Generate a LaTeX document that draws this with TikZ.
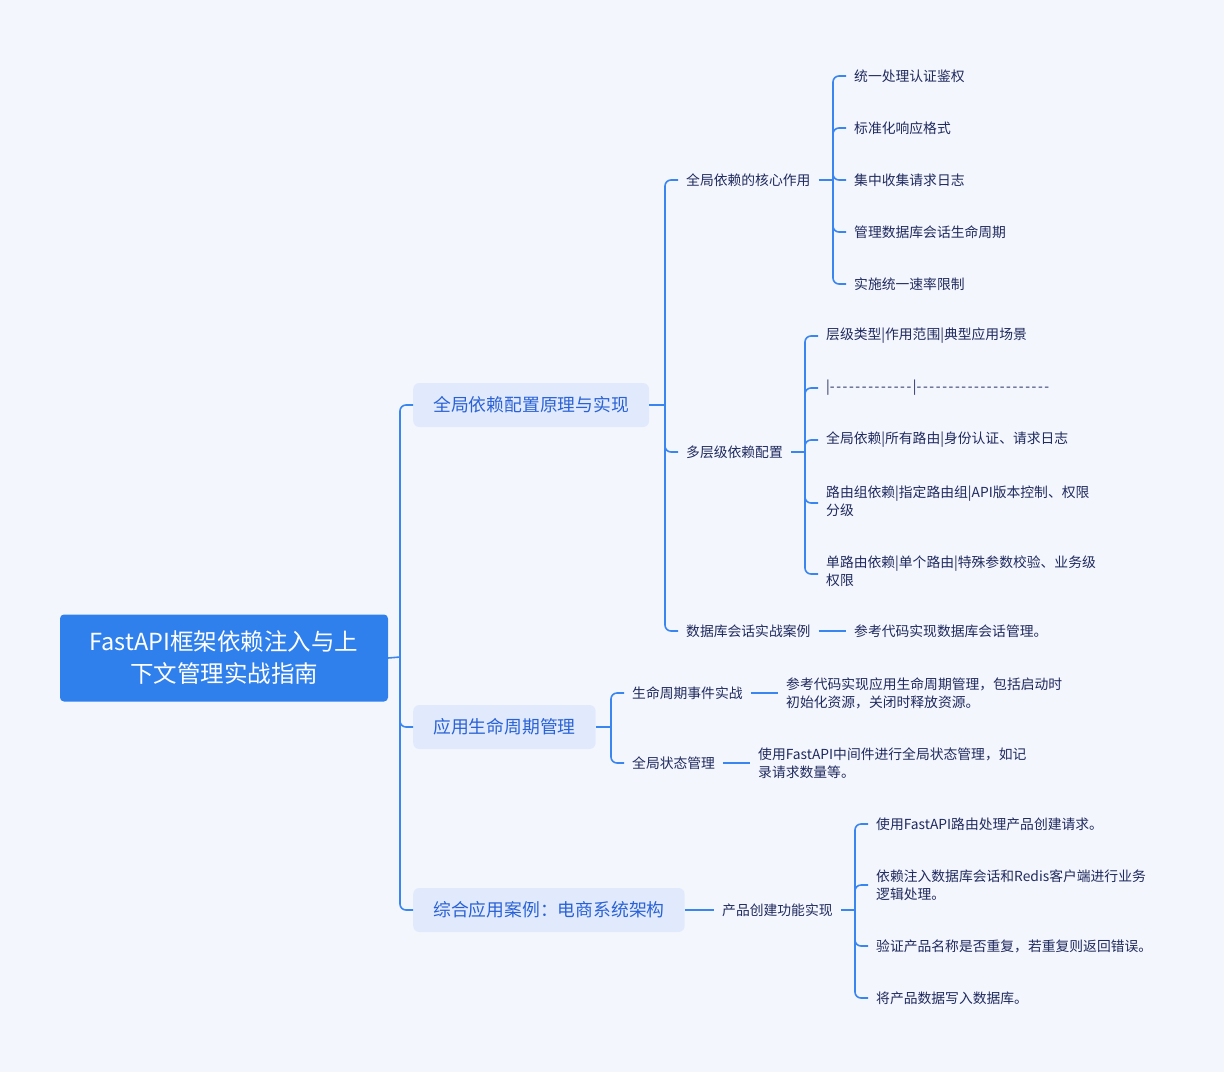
\documentclass[tikz,border=0pt]{standalone}
\usepackage{fontspec}
\setmainfont{Noto Sans CJK SC}
\definecolor{bg}{HTML}{F4F6FD}
\definecolor{ln}{HTML}{3A86F0}
\definecolor{rootc}{HTML}{2F80ED}
\definecolor{lonef}{HTML}{E1EAFC}
\definecolor{lonet}{HTML}{2A62D6}
\definecolor{leaft}{HTML}{1F2A5E}
\newcommand{\hy}[1]{\foreach \i in {1,...,#1}{-\kern1.6pt}}
\begin{document}
\begin{tikzpicture}[x=1pt,y=-1pt,
  conn/.style={draw=ln,line width=1.6pt,rounded corners=6pt},
  rootbox/.style={fill=rootc,rounded corners=4pt,text=white,font=\fontsize{23.5}{32}\selectfont,align=center,minimum width=328pt,minimum height=87pt,inner sep=0pt},
  onebox/.style={fill=lonef,rounded corners=6pt,text=lonet,font=\fontsize{17.8}{22}\selectfont,minimum height=44pt,inner xsep=20pt,anchor=west},
  leaf/.style={text=leaft,font=\fontsize{13.8}{18}\selectfont,align=left,inner sep=0pt,anchor=west}]
\fill[bg] (0,0) rectangle (1224,1072);
\useasboundingbox (0,0) rectangle (1224,1072);
% root
\node[rootbox] (root) at (224,658) {FastAPI框架依赖注入与上\\下文管理实战指南};
% level 1
\node[onebox] (a) at (413,405) {全局依赖配置原理与实现};
\node[onebox] (b) at (413,727) {应用生命周期管理};
\node[onebox] (c) at (413,910) {综合应用案例：电商系统架构};
\coordinate (t0) at (400,657);
\draw[conn] (root.east) -- (t0);
\foreach \n in {a,b,c} \draw[conn] (t0) |- (\n.west);
% level 2 under a
\node[leaf] (a1) at (686,180) {全局依赖的核心作用};
\node[leaf] (a2) at (686,452) {多层级依赖配置};
\node[leaf] (a3) at (686,631) {数据库会话实战案例};
\coordinate (ta) at (665,405);
\draw[conn] (a.east) -- (ta);
\foreach \n in {a1,a2,a3} \draw[conn] (ta) |- ([xshift=-8pt]\n.west);
% a1 leaves
\node[leaf] (a11) at (854,76) {统一处理认证鉴权};
\node[leaf] (a12) at (854,128) {标准化响应格式};
\node[leaf] (a13) at (854,180) {集中收集请求日志};
\node[leaf] (a14) at (854,232) {管理数据库会话生命周期};
\node[leaf] (a15) at (854,284) {实施统一速率限制};
\coordinate (ta1) at (833,180);
\draw[conn] ([xshift=8pt]a1.east) -- (ta1);
\foreach \n in {a11,a12,a13,a14,a15} \draw[conn] (ta1) |- ([xshift=-8pt]\n.west);
% a2 leaves
\node[leaf] (a21) at (826,336) {层级类型|作用范围|典型应用场景};
\node[leaf] (a22) at (826,388) {|\hy{13}|\hy{21}};
\node[leaf] (a23) at (826,440) {全局依赖|所有路由|身份认证、请求日志};
\node[leaf] (a24) at (826,501) {路由组依赖|指定路由组|API版本控制、权限\\分级};
\node[leaf] (a25) at (826,571) {单路由依赖|单个路由|特殊参数校验、业务级\\权限};
\coordinate (ta2) at (805,452);
\draw[conn] ([xshift=8pt]a2.east) -- (ta2);
\foreach \n in {a21,a22,a23} \draw[conn] (ta2) |- ([xshift=-8pt]\n.west);
\draw[conn] (ta2) |- ([xshift=-8pt,yshift=-2pt]a24.west);
\draw[conn] (ta2) |- ([xshift=-8pt,yshift=-3pt]a25.west);
% a3 leaf
\node[leaf] (a31) at (854,631) {参考代码实现数据库会话管理。};
\draw[conn] ([xshift=8pt]a3.east) -- ([xshift=-8pt]a31.west |- a3.east);
% level 2 under b
\node[leaf] (b1) at (632,693) {生命周期事件实战};
\node[leaf] (b2) at (632,763) {全局状态管理};
\coordinate (tb) at (611,727);
\draw[conn] (b.east) -- (tb);
\foreach \n in {b1,b2} \draw[conn] (tb) |- ([xshift=-8pt]\n.west);
\node[leaf] (b11) at (786,693) {参考代码实现应用生命周期管理，包括启动时\\初始化资源，关闭时释放资源。};
\node[leaf] (b21) at (758,763) {使用FastAPI中间件进行全局状态管理，如记\\录请求数量等。};
\draw[conn] ([xshift=8pt]b1.east) -- ([xshift=-8pt]b11.west |- b1.east);
\draw[conn] ([xshift=8pt]b2.east) -- ([xshift=-8pt]b21.west |- b2.east);
% level 2 under c
\node[leaf] (c1) at (722,910) {产品创建功能实现};
\draw[conn] (c.east) -- ([xshift=-8pt]c1.west |- c.east);
\node[leaf] (c11) at (876,824) {使用FastAPI路由处理产品创建请求。};
\node[leaf] (c12) at (876,885) {依赖注入数据库会话和Redis客户端进行业务\\逻辑处理。};
\node[leaf] (c13) at (876,946) {验证产品名称是否重复，若重复则返回错误。};
\node[leaf] (c14) at (876,998) {将产品数据写入数据库。};
\coordinate (tc) at (855,910);
\draw[conn] ([xshift=8pt]c1.east |- c.east) -- (tc);
\foreach \n in {c11,c12,c13,c14} \draw[conn] (tc) |- ([xshift=-8pt]\n.west);
\end{tikzpicture}
\end{document}
